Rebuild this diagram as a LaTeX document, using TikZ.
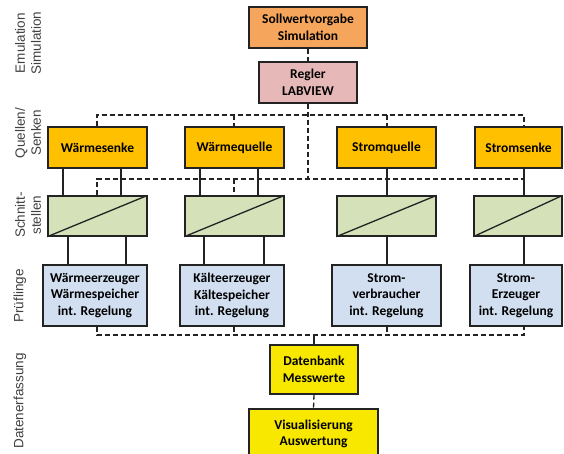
\documentclass[tikz,border=0pt]{standalone}
\usepackage{fontspec}
\setmainfont{Carlito}
\newfontfamily\lblfont{Liberation Sans}
\definecolor{cOrange}{RGB}{246,166,92}
\definecolor{cPink}{RGB}{230,185,184}
\definecolor{cGold}{RGB}{255,192,0}
\definecolor{cGreen}{RGB}{212,225,185}
\definecolor{cBlue}{RGB}{210,223,240}
\definecolor{cYellow}{RGB}{248,232,0}
\definecolor{cLine}{RGB}{35,35,35}
\begin{document}
\begin{tikzpicture}[x=1pt,y=-1pt,
  box/.style={draw=cLine, line width=1.3pt, align=center, inner sep=0pt,
    font=\bfseries\fontsize{13.5}{16.5}\selectfont},
  netz/.style={draw=cLine, dash pattern=on 5pt off 3pt, line width=1.3pt},
  solid line/.style={draw=cLine, line width=1.3pt},
  lbl/.style={rotate=90, align=center, text=black!75,
    font=\lblfont\fontsize{13.5}{16}\selectfont}]
\useasboundingbox (0,0) rectangle (564,453);

% left labels
\node[lbl] (l1) at (28,43) {Emulation\\Simulation};
\node[lbl] (l2) at (28,133) {Quellen/\\Senken};
\node[lbl] (l3) at (28,215) {Schnitt-\\stellen};
\node[lbl] (l4) at (20,296) {Prüflinge};
\node[lbl] (l5) at (20,401) {Datenerfassung};

% top
\node[box, fill=cOrange, minimum width=118pt, minimum height=41pt] (sw) at (308,27.5) {Sollwertvorgabe\\Simulation};
\node[box, fill=cPink, minimum width=98pt, minimum height=41pt] (rg) at (308,82.5) {Regler\\LABVIEW};

% row 1
\node[box, fill=cGold, minimum width=99pt, minimum height=41pt] (ws) at (97.5,147.5) {Wärmesenke};
\node[box, fill=cGold, minimum width=99pt, minimum height=41pt] (wq) at (234.5,147.5) {Wärmequelle};
\node[box, fill=cGold, minimum width=99pt, minimum height=41pt] (sq) at (386.5,147.5) {Stromquelle};
\node[box, fill=cGold, minimum width=87pt, minimum height=41pt] (sk) at (518.5,147.5) {Stromsenke};

% row 2 (Schnittstellen)
\node[box, fill=cGreen, minimum width=99pt, minimum height=40pt] (s1) at (97.5,216) {};
\node[box, fill=cGreen, minimum width=99pt, minimum height=40pt] (s2) at (234.5,216) {};
\node[box, fill=cGreen, minimum width=99pt, minimum height=40pt] (s3) at (386.5,216) {};
\node[box, fill=cGreen, minimum width=88pt, minimum height=40pt] (s4) at (518,216) {};
\foreach \s in {s1,s2,s3,s4} \draw[solid line] (\s.south west) -- (\s.north east);

% row 3 (Prüflinge)
\node[box, fill=cBlue, minimum width=104pt, minimum height=61pt] (p1) at (95,295.5) {Wärmeerzeuger\\Wärmespeicher\\int. Regelung};
\node[box, fill=cBlue, minimum width=104pt, minimum height=61pt] (p2) at (232,295.5) {Kälteerzeuger\\Kältespeicher\\int. Regelung};
\node[box, fill=cBlue, minimum width=109pt, minimum height=61pt] (p3) at (386.5,295.5) {Strom-\\verbraucher\\int. Regelung};
\node[box, fill=cBlue, minimum width=92pt, minimum height=61pt] (p4) at (516,295.5) {Strom-\\Erzeuger\\int. Regelung};

% data
\node[box, fill=cYellow, minimum width=88pt, minimum height=49pt] (db) at (314,369.5) {Datenbank\\Messwerte};
\node[box, fill=cYellow, minimum width=129pt, minimum height=50pt] (vi) at (313.5,434) {Visualisierung\\Auswertung};

% column coordinates
\coordinate (ya) at (0,115);
\coordinate (yb) at (0,179);
\coordinate (yc) at (0,335);
\coordinate (x97) at (97,0);
\coordinate (x234) at (234,0);
\coordinate (x308) at (308,0);
\coordinate (x387) at (387,0);
\coordinate (x524) at (524,0);
\coordinate (x63) at (63,0);
\coordinate (x121) at (121,0);
\coordinate (x68) at (68,0);
\coordinate (x126) at (126,0);
\coordinate (x200) at (200,0);
\coordinate (x258) at (258,0);
\coordinate (x204) at (204,0);
\coordinate (x264) at (264,0);

% solid connectors
\draw[solid line] (x63 |- ws.south) -- (x63 |- s1.north);
\draw[solid line] (x121 |- ws.south) -- (x121 |- s1.north);
\draw[solid line] (x200 |- wq.south) -- (x200 |- s2.north);
\draw[solid line] (x258 |- wq.south) -- (x258 |- s2.north);
\draw[solid line] (x387 |- sq.south) -- (x387 |- s3.north);
\draw[solid line] (x524 |- sk.south) -- (x524 |- s4.north);
\draw[solid line] (x68 |- s1.south) -- (x68 |- p1.north);
\draw[solid line] (x126 |- s1.south) -- (x126 |- p1.north);
\draw[solid line] (x204 |- s2.south) -- (x204 |- p2.north);
\draw[solid line] (x264 |- s2.south) -- (x264 |- p2.north);
\draw[solid line] (x387 |- s3.south) -- (x387 |- p3.north);
\draw[solid line] (x524 |- s4.south) -- (x524 |- p4.north);

% dashed network
\draw[netz] (sw.south) -- (rg.north);
\draw[netz] (rg.south) -- (x308 |- yb);
\draw[netz] (x97 |- ws.north) -- (x97 |- ya) -- (x524 |- ya) -- (x524 |- sk.north);
\draw[netz] (x234 |- ya) -- (x234 |- wq.north);
\draw[netz] (x387 |- ya) -- (x387 |- sq.north);
\draw[netz] (x97 |- s1.north) -- (x97 |- yb) -- (x524 |- yb) -- (x524 |- s4.north);
\draw[netz] (x234 |- yb) -- (x234 |- s2.north);
\draw[netz] (x97 |- p1.south) -- (x97 |- yc) -- (x524 |- yc) -- (x524 |- p4.south);
\draw[netz] (x234 |- p2.south) -- (x234 |- yc);
\draw[netz] (x387 |- p3.south) -- (x387 |- yc);
\draw[solid line] (db.north) -- (db.north |- yc);
\draw[netz] (db.south) -- (vi.north);
\end{tikzpicture}
\end{document}
